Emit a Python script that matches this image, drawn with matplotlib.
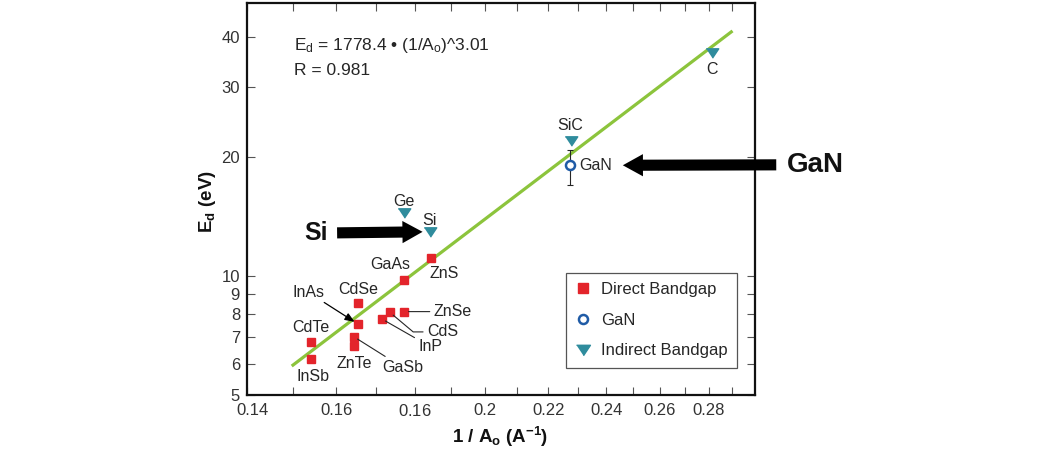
import matplotlib
matplotlib.use("Agg")
import matplotlib.pyplot as plt
import matplotlib.transforms as mtransforms
from matplotlib.lines import Line2D
from matplotlib.ticker import NullLocator

plt.rcParams["font.family"] = ["Liberation Sans", "DejaVu Sans"]
plt.rcParams["mathtext.fontset"] = "custom"
plt.rcParams["mathtext.rm"] = "Liberation Sans"
plt.rcParams["mathtext.it"] = "Liberation Sans:italic"
plt.rcParams["mathtext.bf"] = "Liberation Sans:bold"

# direct bandgap materials: 1/A0 (1/Angstrom) vs displacement energy Ed (eV)
direct_names = ["GaAs", "ZnS", "CdSe", "InAs", "GaSb", "ZnTe", "CdTe", "InSb", "InP", "CdS", "ZnSe"]
direct_x = [0.1773, 0.1846, 0.1654, 0.1654, 0.1644, 0.1644, 0.1541, 0.1541, 0.1714, 0.1735, 0.1773]
direct_y = [9.77, 11.08, 8.53, 7.55, 7.01, 6.65, 6.82, 6.17, 7.78, 8.08, 8.12]

# indirect bandgap materials
indirect_names = ["Ge", "Si", "SiC", "C"]
indirect_x = [0.1771, 0.1841, 0.2275, 0.2812]
indirect_y = [14.37, 12.92, 21.9, 36.6]

# GaN with its error bar
gan_x = [0.2273]
gan_y = [19.0]
gan_err_low = [2.0]
gan_err_high = [1.75]

# fitted power law, drawn between its end points
fit_x = [0.150, 0.2895]
fit_y = [5.95, 41.3]

x_ticks = [0.14, 0.15, 0.16, 0.17, 0.18, 0.19, 0.20, 0.21, 0.22, 0.23, 0.24, 0.25, 0.26, 0.27, 0.28, 0.29]
x_ticklabels = ["0.14", "", "0.16", "", "0.16", "", "0.2", "", "0.22", "", "0.24", "", "0.26", "", "0.28", ""]
y_ticks = [5, 6, 7, 8, 9, 10, 20, 30, 40]

RED = "#e3242b"
TEAL = "#2f8c9d"
BLUE = "#1f5ba6"
GREEN = "#8cc43c"
TXT = "#262626"

# label offsets (points) from each marker
direct_offsets = {
    "GaAs": (-10, 11), "ZnS": (9, -11), "CdSe": (0, 9.5), "InAs": (-36, 23),
    "GaSb": (35, -22), "ZnTe": (0, -12.5), "CdTe": (0, 10), "InSb": (1.5, -13),
    "InP": (35, -20), "CdS": (38, -14), "ZnSe": (35, 0),
}
indirect_offsets = {"Ge": (0, 8.5), "Si": (0, 8), "SiC": (0, 11), "C": (0, -12)}

fig = plt.figure(figsize=(10.5, 4.5), dpi=100)
ax = fig.add_axes([247 / 1050, 55 / 450, 508 / 1050, 392.5 / 450])
ax.set_xscale("log")
ax.set_yscale("log")
ax.set_xlim(0.14, 0.30)
ax.set_ylim(5, 49)

ax.plot(fit_x, fit_y, color=GREEN, lw=2.3, zorder=1)

ax.plot(direct_x, direct_y, ls="none", marker="s", ms=5.2, color=RED, mec=RED, zorder=3)

tri = [(-1, 0.75), (1, 0.75), (0, -0.75)]
ax.plot(indirect_x, indirect_y, ls="none", marker=tri, ms=9, color=TEAL, mec=TEAL, zorder=3)

ax.errorbar(gan_x, gan_y, yerr=[gan_err_low, gan_err_high], fmt="none",
            ecolor=TXT, elinewidth=0.8, capsize=2.5, capthick=0.8, zorder=2)
ax.plot(gan_x, gan_y, ls="none", marker="o", ms=6.5, mfc="white", mec=BLUE, mew=1.8, zorder=4)

# labels for the direct bandgap points
for name, x, y in zip(direct_names, direct_x, direct_y):
    dx, dy = direct_offsets[name]
    props = None
    if name == "InAs":
        props = dict(arrowstyle="-|>,head_length=0.5,head_width=0.2", color="black",
                     lw=0.9, shrinkA=0, shrinkB=3)
    elif name in ("GaSb", "InP", "ZnSe"):
        props = dict(arrowstyle="-", color=TXT, lw=0.8, shrinkA=1, shrinkB=3)
    elif name == "CdS":
        props = dict(arrowstyle="-", color=TXT, lw=0.8, shrinkA=1, shrinkB=3,
                     connectionstyle="angle,angleA=0,angleB=-40,rad=0")
    ax.annotate(name, (x, y), xytext=(dx, dy), textcoords="offset points",
                ha="center", va="center", fontsize=11.5, color=TXT, arrowprops=props)

for name, x, y in zip(indirect_names, indirect_x, indirect_y):
    dx, dy = indirect_offsets[name]
    ax.annotate(name, (x, y), xytext=(dx, dy), textcoords="offset points",
                ha="center", va="center", fontsize=11.5, color=TXT)

ax.annotate("GaN", (gan_x[0], gan_y[0]), xytext=(6.5, 0), textcoords="offset points",
            ha="left", va="center", fontsize=11.5, color=TXT)

# big callout arrows
big = dict(arrowstyle="simple,head_length=1.45,head_width=1.6,tail_width=0.8",
           mutation_scale=10, color="black", lw=0)
ax.annotate("Si", (indirect_x[1], indirect_y[1]), xytext=(-82, -1), textcoords="offset points",
            ha="center", va="center", fontsize=18, fontweight="bold", color="#111",
            arrowprops=dict(big, shrinkA=5, shrinkB=5), annotation_clip=False)
ax.annotate("GaN", (gan_x[0], gan_y[0]), xytext=(177, 0.5), textcoords="offset points",
            ha="center", va="center", fontsize=20, fontweight="bold", color="#111",
            arrowprops=dict(big, shrinkA=6, shrinkB=38), annotation_clip=False)

ax.text(0.093, 0.89, r"E$_\mathrm{d}$ = 1778.4 • (1/A$_\mathrm{o}$)^3.01",
        transform=ax.transAxes, fontsize=12.5, color=TXT, va="center")
ax.text(0.093, 0.826, "R = 0.981", transform=ax.transAxes, fontsize=12.5, color=TXT, va="center")

# axes and ticks
ax.set_xticks(x_ticks)
ax.xaxis.set_minor_locator(NullLocator())
ax.set_yticks(y_ticks, labels=[str(v) for v in y_ticks])
ax.yaxis.set_minor_locator(NullLocator())
ax.tick_params(direction="in", length=6, width=0.8, color="#555", top=True, right=True,
               labelsize=12, labelcolor="#333")
ax.tick_params(axis="x", labelbottom=False)
ax.tick_params(axis="y", pad=5)

# x tick labels written by hand (the figure repeats "0.16")
seen = set()
for x, lab in zip(x_ticks, x_ticklabels):
    if not lab:
        continue
    shown = r"$\mathregular{%s}$" % lab if lab in seen else lab
    seen.add(lab)
    shift = 4 / 72 if x == x_ticks[0] else 0
    tf = ax.get_xaxis_transform() + mtransforms.ScaledTranslation(shift, -6 / 72, fig.dpi_scale_trans)
    ax.text(x, 0, shown, transform=tf, ha="center", va="top", fontsize=12, color="#333", clip_on=False)

for s in ax.spines.values():
    s.set_linewidth(1.6)
    s.set_color("#111")

ax.set_xlabel(r"1 / A$_\mathbf{o}$ (A$^\mathbf{-1}$)", fontsize=13.5, fontweight="bold", color="#111")
ax.set_ylabel(r"E$_\mathbf{d}$ (eV)", fontsize=13.5, fontweight="bold", color="#111", va="center")
ax.xaxis.set_label_coords(0.498, -0.107)
ax.xaxis.label.set_va("center")
ax.yaxis.set_label_coords(-0.077, 0.494)

handles = [
    Line2D([], [], ls="none", marker="s", ms=7.5, color=RED, label="Direct Bandgap"),
    Line2D([], [], ls="none", marker="o", ms=6.5, mfc="white", mec=BLUE, mew=1.8, label="GaN"),
    Line2D([], [], ls="none", marker=tri, ms=10, color=TEAL, label="Indirect Bandgap"),
]
leg = ax.legend(handles=handles, loc="upper left", bbox_to_anchor=(0.627, 0.312),
                fontsize=12, fancybox=False, framealpha=1, edgecolor="#555",
                handlelength=1.0, handletextpad=0.6, labelspacing=0.95, borderpad=0.55,
                borderaxespad=0)
leg.get_frame().set_linewidth(0.9)
for t in leg.get_texts():
    t.set_color(TXT)

fig.savefig("out.png", dpi=100)
